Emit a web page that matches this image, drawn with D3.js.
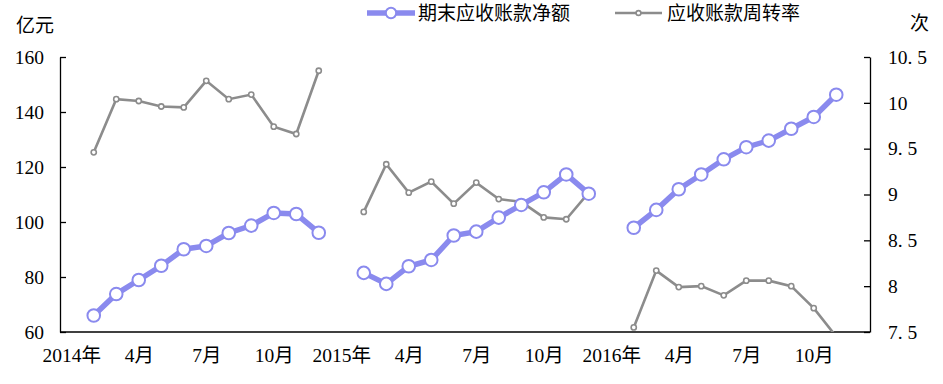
<!DOCTYPE html>
<html><head><meta charset="utf-8">
<script src="https://cdn.jsdelivr.net/npm/d3@7"></script>
<style>
html,body{margin:0;padding:0;background:#fff;}
svg{display:block;}
</style></head>
<body><div id="chart"></div>
<script>
// ---- data ----
const years = ["2014", "2015", "2016"];
const months = [1,2,3,4,5,6,7,8,9,10,11,12];
const tickLabels = ["2014年","4月","7月","10月","2015年","4月","7月","10月","2016年","4月","7月","10月"];
// 期末应收账款净额 (亿元), Feb..Dec per year (Jan missing)
const netAR2014 = [66.0, 73.8, 78.9, 84.1, 90.1, 91.3, 96.0, 98.7, 103.3, 102.9, 96.1];
const netAR2015 = [81.5, 77.5, 83.9, 86.2, 95.1, 96.5, 101.6, 106.2, 110.8, 117.3, 110.3];
const netAR2016 = [97.9, 104.4, 111.9, 117.3, 122.8, 127.2, 129.6, 133.9, 138.2, 146.3];
// 应收账款周转率 (次)
const turnover2014 = [9.46, 10.04, 10.02, 9.96, 9.95, 10.24, 10.04, 10.09, 9.74, 9.66, 10.35];
const turnover2015 = [8.81, 9.33, 9.02, 9.14, 8.90, 9.13, 8.95, 8.92, 8.75, 8.73, 9.02];
const turnover2016 = [7.55, 8.17, 7.99, 8.00, 7.90, 8.06, 8.06, 8.00, 7.76, 7.45];
const leftTicks = [60, 80, 100, 120, 140, 160];
const rightTicks = [7.5, 8, 8.5, 9, 9.5, 10, 10.5];
const seriesNames = ["期末应收账款净额", "应收账款周转率"];

// ---- layout ----
const W = 943, H = 384;
const L = 60, R = 870, T = 57, B = 332;
const blue = "#8a8aee", gray = "#8c8c8c";
const FONT = "'Liberation Serif', 'Times New Roman', 'Noto Sans CJK SC', serif";

const cats = [];
years.forEach(y => months.forEach(m => cats.push(y + "-" + m)));
const x = d3.scalePoint().domain(cats).range([L, R]).padding(0.5);
const yL = d3.scaleLinear().domain([60, 160]).range([B, T]);
const yR = d3.scaleLinear().domain([7.5, 10.5]).range([B, T]);

function build(vals2014, vals2015, vals2016) {
  return [vals2014, vals2015, vals2016].map((arr, yi) =>
    arr.map((v, i) => ({cat: years[yi] + "-" + (i + 2), v})));
}
const netSegs = build(netAR2014, netAR2015, netAR2016);
const turnSegs = build(turnover2014, turnover2015, turnover2016);

const svg = d3.select("#chart").append("svg").attr("width", W).attr("height", H)
  .attr("font-family", FONT);

svg.append("defs").append("clipPath").attr("id", "clip")
  .append("rect").attr("x", L).attr("y", T - 10).attr("width", R - L).attr("height", B - T + 10);

// axes
const axL = svg.append("g").attr("transform", `translate(${L},0)`)
  .call(d3.axisLeft(yL).tickValues(leftTicks).tickSizeInner(-6).tickSizeOuter(0).tickPadding(16));
const axR = svg.append("g").attr("transform", `translate(${R},0)`)
  .call(d3.axisRight(yR).tickValues(rightTicks).tickSizeInner(-6).tickSizeOuter(0).tickPadding(18)
    .tickFormat(d => d % 1 === 0 ? String(d) : String(d).replace(".", ". ")));
const axB = svg.append("g").attr("transform", `translate(0,${B})`)
  .call(d3.axisBottom(x).tickValues(cats.filter((c, i) => i % 3 === 0)).tickSize(0).tickPadding(12)
    .tickFormat((c) => tickLabels[cats.indexOf(c) / 3]));
[axL, axR, axB].forEach(a => {
  a.attr("font-family", FONT).attr("font-size", 19.5);
  a.select(".domain").attr("stroke", "#000").attr("stroke-width", 1.3);
  a.selectAll(".tick line").attr("stroke", "#000").attr("stroke-width", 1.3);
  a.selectAll("text").attr("fill", "#000");
});
axB.select(".domain").attr("d", `M${L},0H${R}`);
axB.selectAll("text").attr("dy", "0.9em");

// axis titles
svg.append("text").attr("x", 16).attr("y", 32).attr("font-size", 19).text("亿元");
svg.append("text").attr("x", 910).attr("y", 30).attr("font-size", 19).text("次");

const plot = svg.append("g").attr("clip-path", "url(#clip)");

// turnover (gray) line
const lineR = d3.line().x(d => x(d.cat)).y(d => yR(d.v));
turnSegs.forEach(seg => {
  plot.append("path").datum(seg).attr("d", lineR)
    .attr("fill", "none").attr("stroke", gray).attr("stroke-width", 2.6);
  plot.selectAll(null).data(seg.filter(d => d.v >= 7.5)).join("circle")
    .attr("cx", d => x(d.cat)).attr("cy", d => yR(d.v)).attr("r", 2.6)
    .attr("fill", "#fff").attr("stroke", gray).attr("stroke-width", 1.6);
});

// net AR (blue) line
const lineL = d3.line().x(d => x(d.cat)).y(d => yL(d.v));
netSegs.forEach(seg => {
  plot.append("path").datum(seg).attr("d", lineL)
    .attr("fill", "none").attr("stroke", blue).attr("stroke-width", 5.5);
  plot.selectAll(null).data(seg).join("circle")
    .attr("cx", d => x(d.cat)).attr("cy", d => yL(d.v)).attr("r", 6.3)
    .attr("fill", "#fff").attr("stroke", blue).attr("stroke-width", 2);
});

// legend
const lg = svg.append("g");
lg.append("line").attr("x1", 367).attr("x2", 415).attr("y1", 13).attr("y2", 13)
  .attr("stroke", blue).attr("stroke-width", 5.5);
lg.append("circle").attr("cx", 391).attr("cy", 13).attr("r", 5.2)
  .attr("fill", "#fff").attr("stroke", blue).attr("stroke-width", 2);
lg.append("text").attr("x", 418).attr("y", 20).attr("font-size", 19).text(seriesNames[0]);
lg.append("line").attr("x1", 615).attr("x2", 662).attr("y1", 13).attr("y2", 13)
  .attr("stroke", gray).attr("stroke-width", 2.6);
lg.append("circle").attr("cx", 638.5).attr("cy", 13).attr("r", 2.4)
  .attr("fill", "#fff").attr("stroke", gray).attr("stroke-width", 1.6);
lg.append("text").attr("x", 667).attr("y", 20).attr("font-size", 19).text(seriesNames[1]);
</script>
</body></html>
